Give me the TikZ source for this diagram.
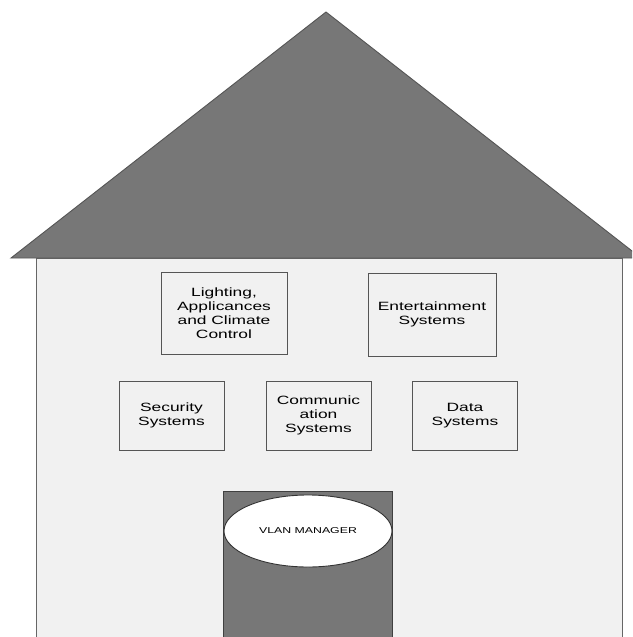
\documentclass[tikz,border=0pt]{standalone}
\usepackage{fontspec}
\setmainfont{Liberation Sans}
\newfontfamily\widesans[FakeStretch=1.45]{Liberation Sans}
\usetikzlibrary{shapes.geometric}
\definecolor{roofgray}{HTML}{777777}
\definecolor{walllight}{HTML}{F1F1F1}
\definecolor{edgegray}{HTML}{555555}
\tikzset{
  sysbox/.style={draw=edgegray, line width=0.9pt, fill=walllight, align=center,
    font=\widesans\fontsize{12}{14}\selectfont, inner sep=0pt},
}
\begin{document}
\begin{tikzpicture}[x=1pt,y=-1pt]
\useasboundingbox (0,0) rectangle (632,637);
\begin{scope}
\clip (0,0) rectangle (632,637);
% wall
\draw[draw=gray!80!black, line width=0.9pt, fill=walllight] (36,258) rectangle (622,645);
% roof
\draw[draw=edgegray, line width=0.9pt, fill=roofgray] (11,258) -- (326,12) -- (641,258) -- cycle;
% door
\draw[draw=black!75, line width=0.9pt, fill=roofgray] (223,491) rectangle (392,645);
\end{scope}
% system boxes
\node[sysbox, minimum width=126, minimum height=82] (light) at (224,313) {Lighting,\\Applicances\\and Climate\\Control};
\node[sysbox, minimum width=128, minimum height=83] (ent) at (432,314.5) {Entertainment\\Systems};
\node[sysbox, minimum width=105, minimum height=69] (sec) at (171.5,415.5) {Security\\Systems};
\node[sysbox, minimum width=105, minimum height=69] (com) at (318.5,415.5) {Communic\\ation\\Systems};
\node[sysbox, minimum width=105, minimum height=69] (data) at (465,415.5) {Data\\Systems};
% VLAN manager
\node[ellipse, draw=black!80, line width=0.9pt, fill=white, minimum width=168, minimum height=72, inner sep=0pt,
  font=\widesans\fontsize{8.5}{10}\selectfont] (vlan) at (308,531) {VLAN MANAGER};
\end{tikzpicture}
\end{document}
